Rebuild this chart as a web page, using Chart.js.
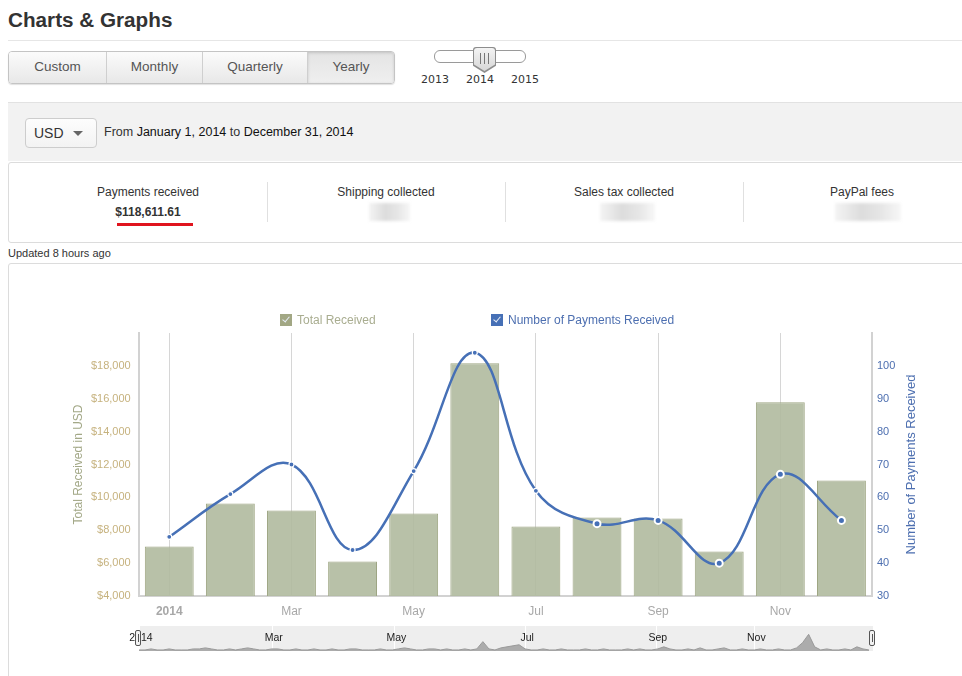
<!DOCTYPE html>
<html>
<head>
<meta charset="utf-8">
<title>Charts &amp; Graphs</title>
<script src="https://cdn.jsdelivr.net/npm/chart.js@4.4.1/dist/chart.umd.min.js"></script>
<style>
  body { margin: 0; width: 962px; height: 676px; overflow: hidden; position: relative; background: #fff;
         font-family: "Liberation Sans", Arial, sans-serif; color: #333; }
  .abs { position: absolute; }
  h1 { position: absolute; left: 8px; top: 8px; margin: 0; font-size: 20.7px; font-weight: bold; color: #333; }
  .rule { left: 8px; top: 40px; width: 954px; height: 1px; background: #e6e6e6; }

  /* period buttons */
  .btns { left: 8px; top: 51px; height: 31px; display: flex; border: 1px solid #c4c4c4; border-radius: 4px;
          box-shadow: 0 1px 1px rgba(0,0,0,0.12); overflow: hidden; }
  .btns div { height: 31px; line-height: 30px; text-align: center; font-size: 13.5px; color: #555;
              background: linear-gradient(#fbfbfb, #e8e8e8); border-left: 1px solid #cfcfcf; box-sizing: border-box; }
  .btns div:first-child { border-left: none; }
  .btns div.on { background: linear-gradient(#e4e4e4, #efefef); box-shadow: inset 0 1px 3px rgba(0,0,0,0.15); }

  /* year slider */
  .track { left: 434px; top: 50px; width: 90px; height: 11px; border: 1px solid #9a9a9a; border-radius: 6px; background: #fff; }
  .knob-o { left: 473px; top: 47px; width: 23px; height: 26px; background: #8d8d8d; border-radius: 3px 3px 0 0;
            clip-path: polygon(0 0, 100% 0, 100% 72%, 50% 100%, 0 72%); }
  .knob-i { left: 474px; top: 48px; width: 21px; height: 23px; background: linear-gradient(#f4f4f4, #d6d6d6);
            border-radius: 3px 3px 0 0; clip-path: polygon(0 0, 100% 0, 100% 72%, 50% 100%, 0 72%); }
  .bar3 { top: 53px; width: 1px; height: 11px; background: #777; }
  .yr { top: 73px; font-family: "DejaVu Sans", Verdana, sans-serif; font-size: 11px; color: #333; }

  /* filter band */
  .band { left: 8px; top: 102px; width: 954px; height: 58px; background: #f2f2f2; border-top: 1px solid #e2e2e2; }
  .usd { left: 25px; top: 118px; width: 70px; height: 28px; border: 1px solid #cdcdcd; border-radius: 4px;
         background: linear-gradient(#fdfdfd, #f3f3f3); }
  .usd span { position: absolute; left: 8px; top: 6px; font-size: 14px; color: #333; }
  .usd i { position: absolute; left: 47px; top: 12px; width: 0; height: 0;
           border-left: 5px solid transparent; border-right: 5px solid transparent; border-top: 5px solid #666; }
  .range { left: 104px; top: 125px; font-size: 12.5px; color: #333; }
  .range b { font-weight: normal; color: #111; }

  /* stats */
  .stats { left: 8px; top: 162px; width: 970px; height: 79px; border: 1px solid #dcdcdc; border-radius: 3px; background: #fff; }
  .col { top: 185px; width: 238px; text-align: center; font-size: 12px; color: #333; }
  .sep { top: 182px; width: 1px; height: 40px; background: #e0e0e0; }
  .amt { top: 205px; width: 238px; left: 29px; text-align: center; font-size: 12px; font-weight: bold; color: #333; }
  .red { left: 117px; top: 223px; width: 76px; height: 3px; background: #e0141e; }
  .blob { top: 203px; height: 18px; background: linear-gradient(90deg, #f4f4f4, #dcdcdc 40%, #e6e6e6 70%, #f7f7f7);
          filter: blur(1.5px); }
  .upd { left: 8px; top: 247px; font-size: 11px; color: #333; }

  /* chart panel */
  .panel { left: 8px; top: 263px; width: 970px; height: 430px; border: 1px solid #dcdcdc; border-radius: 3px; }
  #wrap { left: 0; top: 300px; width: 962px; height: 330px; }
  .lg { top: 313px; font-size: 12px; white-space: nowrap; }
  .lg .box { display: inline-block; width: 12px; height: 12px; vertical-align: -2px; margin-right: 5px; position: relative; }
  .lg .box::after { content: ""; position: absolute; left: 4px; top: 1px; width: 3px; height: 6px;
                    border-right: 1.5px solid #e8eef8; border-bottom: 1.5px solid #e8eef8; transform: rotate(40deg); }
  #navWrap { left: 119px; top: 626px; width: 774px; height: 25px; }
  .hdl { top: 630px; width: 4px; height: 14px; border: 1px solid #555; border-radius: 2px; background: #f2f2f2; }
  .hdl::after { content: ""; position: absolute; left: 1.5px; top: 3px; width: 1px; height: 8px; background: #555; }
</style>
</head>
<body>

<h1>Charts &amp; Graphs</h1>
<div class="abs rule"></div>

<div class="abs btns">
  <div style="width:97px">Custom</div>
  <div style="width:96px">Monthly</div>
  <div style="width:105px">Quarterly</div>
  <div class="on" style="width:87px">Yearly</div>
</div>

<div class="abs track"></div>
<div class="abs knob-o"></div>
<div class="abs knob-i"></div>
<div class="abs bar3" style="left:480px"></div>
<div class="abs bar3" style="left:484px"></div>
<div class="abs bar3" style="left:488px"></div>
<div class="abs yr" style="left:421px">2013</div>
<div class="abs yr" style="left:466px">2014</div>
<div class="abs yr" style="left:511px">2015</div>

<div class="abs band"></div>
<div class="abs usd"><span>USD</span><i></i></div>
<div class="abs range">From <b>January 1, 2014</b> to <b>December 31, 2014</b></div>

<div class="abs stats"></div>
<div class="abs col" style="left:29px">Payments received</div>
<div class="abs col" style="left:267px">Shipping collected</div>
<div class="abs col" style="left:505px">Sales tax collected</div>
<div class="abs col" style="left:743px">PayPal fees</div>
<div class="abs sep" style="left:267px"></div>
<div class="abs sep" style="left:505px"></div>
<div class="abs sep" style="left:743px"></div>
<div class="abs amt">$118,611.61</div>
<div class="abs red"></div>
<div class="abs blob" style="left:369px;width:41px"></div>
<div class="abs blob" style="left:600px;width:55px"></div>
<div class="abs blob" style="left:835px;width:66px"></div>
<div class="abs upd">Updated 8 hours ago</div>

<div class="abs panel"></div>
<div class="abs" id="wrap"><canvas id="mainChart"></canvas></div>
<div id="legend"></div>
<div class="abs" id="navWrap"><canvas id="navChart"></canvas></div>
<div class="abs hdl" style="left:135px"></div>
<div class="abs hdl" style="left:869px"></div>

<script>
// データ
const months = ['Jan', 'Feb', 'Mar', 'Apr', 'May', 'Jun', 'Jul', 'Aug', 'Sep', 'Oct', 'Nov', 'Dec'];
const monthTickLabels = ['2014', '', 'Mar', '', 'May', '', 'Jul', '', 'Sep', '', 'Nov', ''];
const totalReceived = [7010, 9630, 9200, 6100, 9020, 18160, 8230, 8780, 8720, 6710, 15790, 11030];
const paymentCount = [48, 61, 70, 44, 68, 104, 62, 52, 53, 40, 67, 53];

// navigator (3日ごとの推移)
const navValues = [
  1, 1, 2, 1, 1, 2, 1, 1, 1, 2,
  2, 3, 2, 1, 1, 2, 1, 2, 3, 2,
  1, 1, 2, 2, 1, 1, 2, 1, 1, 2,
  1, 1, 2, 1, 1, 2, 2, 1, 1, 1,
  2, 1, 1, 2, 3, 2, 1, 1, 2, 2,
  1, 2, 1, 1, 2, 1, 2, 9, 2, 1,
  3, 4, 5, 6, 2, 1, 1, 2, 1, 1,
  2, 1, 1, 1, 2, 1, 1, 2, 1, 1,
  1, 2, 1, 2, 1, 1, 2, 4, 2, 1,
  1, 2, 1, 3, 1, 1, 2, 3, 1, 1,
  2, 1, 1, 2, 1, 1, 2, 1, 1, 3,
  8, 16, 4, 1, 2, 1, 1, 2, 1, 4,
  2, 1
];
const navTickDays = [0, 66, 127, 192, 257, 306];
const navTickLabels = ['2014', 'Mar', 'May', 'Jul', 'Sep', 'Nov'];

const FONT = '"Liberation Sans", Arial, sans-serif';
const OLIVE = '#a3a887';
const BLUE = '#4670b6';
const RIGHT_TITLE = 'Number of Payments Received';

// 右軸タイトルを下から上に読む向きで描く
const rightTitle = {
    id: 'rightTitle',
    afterDraw(chart) {
        const { ctx, chartArea: a, scales: { y1 } } = chart;
        ctx.save();
        ctx.translate(y1.right - 11, (a.top + a.bottom) / 2);
        ctx.rotate(-Math.PI / 2);
        ctx.font = '13px ' + FONT;
        ctx.fillStyle = '#4d6fb0';
        ctx.textAlign = 'center';
        ctx.textBaseline = 'middle';
        ctx.fillText(RIGHT_TITLE, 0, 0);
        ctx.restore();
    }
};

const mainChart = new Chart(document.getElementById('mainChart'), {
    data: {
        labels: months,
        datasets: [{
            type: 'line',
            label: RIGHT_TITLE,
            data: paymentCount,
            yAxisID: 'y1',
            borderColor: BLUE,
            borderWidth: 2.5,
            tension: 0.4,
            pointRadius: [2.5, 2.5, 2.5, 2.5, 2.5, 2.5, 2.5, 3.5, 3.5, 3.5, 3.5, 3.5],
            pointBackgroundColor: BLUE,
            pointBorderColor: '#ffffff',
            pointBorderWidth: [1.2, 1.2, 1.2, 1.2, 1.2, 1.2, 1.2, 2, 2, 2, 2, 2],
            order: 0
        }, {
            type: 'bar',
            label: 'Total Received',
            data: totalReceived,
            yAxisID: 'y',
            backgroundColor: 'rgba(176,186,159,0.9)',
            borderColor: '#9ea683',
            borderWidth: 1,
            borderSkipped: 'bottom',
            barPercentage: 0.8,
            categoryPercentage: 1.0,
            order: 1
        }]
    },
    options: {
        responsive: true,
        maintainAspectRatio: false,
        animation: false,
        layout: { padding: { left: 68, right: 40, top: 33, bottom: 9 } },
        plugins: { legend: { display: false }, tooltip: { enabled: false } },
        scales: {
            x: {
                offset: true,
                grid: {
                    offset: false,
                    drawTicks: false,
                    color: (ctx) => (ctx.index % 2 === 0 ? '#d6d6d6' : 'rgba(0,0,0,0)')
                },
                border: { color: '#d2d2d2', width: 2 },
                ticks: {
                    autoSkip: false,
                    maxRotation: 0,
                    padding: 8,
                    color: '#a8a8a8',
                    font: (ctx) => ({ family: FONT, size: 12, weight: ctx.index === 0 ? 'bold' : 'normal' }),
                    callback: (v, i) => monthTickLabels[i]
                },
                afterFit: (s) => { s.height = 25; }
            },
            y: {
                position: 'left',
                min: 4000,
                max: 20000,
                grid: { display: false, drawTicks: false },
                border: { color: '#d2d2d2', width: 2 },
                ticks: {
                    stepSize: 2000,
                    padding: 8,
                    color: '#c6b27e',
                    font: { family: FONT, size: 11 },
                    callback: (v) => (v >= 20000 ? '' : '$' + v.toLocaleString('en-US'))
                },
                title: { display: true, text: 'Total Received in USD', color: OLIVE, padding: 3,
                         font: { family: FONT, size: 12 } },
                afterFit: (s) => { s.width = 70.7; }
            },
            y1: {
                position: 'right',
                min: 30,
                max: 110,
                grid: { display: false, drawTicks: false },
                border: { color: '#d2d2d2', width: 2 },
                ticks: {
                    stepSize: 10,
                    padding: 5,
                    color: '#4d6fb0',
                    font: { family: FONT, size: 11 },
                    callback: (v) => (v >= 110 ? '' : v)
                },
                afterFit: (s) => { s.width = 50; }
            }
        }
    },
    plugins: [rightTitle]
});

// 凡例 (チェックボックス風)
const legendEl = document.getElementById('legend');
const legendLeft = { 'Total Received': 280, 'Number of Payments Received': 491 };
[mainChart.data.datasets[1], mainChart.data.datasets[0]].forEach((ds) => {
    const isBar = ds.type === 'bar';
    const item = document.createElement('div');
    item.className = 'abs lg';
    item.style.left = legendLeft[ds.label] + 'px';
    item.style.color = isBar ? '#a9ad90' : '#4d6fb0';
    const box = document.createElement('span');
    box.className = 'box';
    box.style.background = isBar ? '#a2a784' : BLUE;
    item.appendChild(box);
    item.appendChild(document.createTextNode(ds.label));
    legendEl.appendChild(item);
});

// navigator
const navBits = {
    id: 'navBits',
    beforeDatasetsDraw(chart) {
        const { ctx, chartArea: a, scales: { x } } = chart;
        ctx.save();
        ctx.fillStyle = '#eeeeee';
        ctx.fillRect(a.left, a.top, a.width, a.height);
        ctx.strokeStyle = '#ffffff';
        ctx.lineWidth = 1;
        navTickDays.forEach((d) => {
            const px = Math.round(x.getPixelForValue(d)) + 0.5;
            ctx.beginPath();
            ctx.moveTo(px, a.top);
            ctx.lineTo(px, a.bottom);
            ctx.stroke();
        });
        ctx.restore();
    },
    afterDatasetsDraw(chart) {
        const { ctx, chartArea: a, scales: { x } } = chart;
        ctx.save();
        ctx.font = '10.5px ' + FONT;
        ctx.fillStyle = '#222';
        ctx.textAlign = 'center';
        ctx.textBaseline = 'middle';
        navTickDays.forEach((d, i) => {
            ctx.fillText(navTickLabels[i], x.getPixelForValue(d) + 2, a.top + 12);
        });
        ctx.restore();
    }
};

new Chart(document.getElementById('navChart'), {
    type: 'line',
    data: {
        datasets: [{
            data: navValues.map((v, i) => ({ x: i * 3, y: v })),
            borderColor: '#9a9a9a',
            borderWidth: 1,
            backgroundColor: '#acacac',
            fill: 'origin',
            pointRadius: 0,
            tension: 0
        }]
    },
    options: {
        responsive: true,
        maintainAspectRatio: false,
        animation: false,
        layout: { padding: { left: 20, right: 20, top: 0, bottom: 0 } },
        plugins: { legend: { display: false }, tooltip: { enabled: false } },
        scales: {
            x: { type: 'linear', min: 0, max: 365, display: false },
            y: { min: 0, max: 24, display: false }
        }
    },
    plugins: [navBits]
});
</script>
</body>
</html>
